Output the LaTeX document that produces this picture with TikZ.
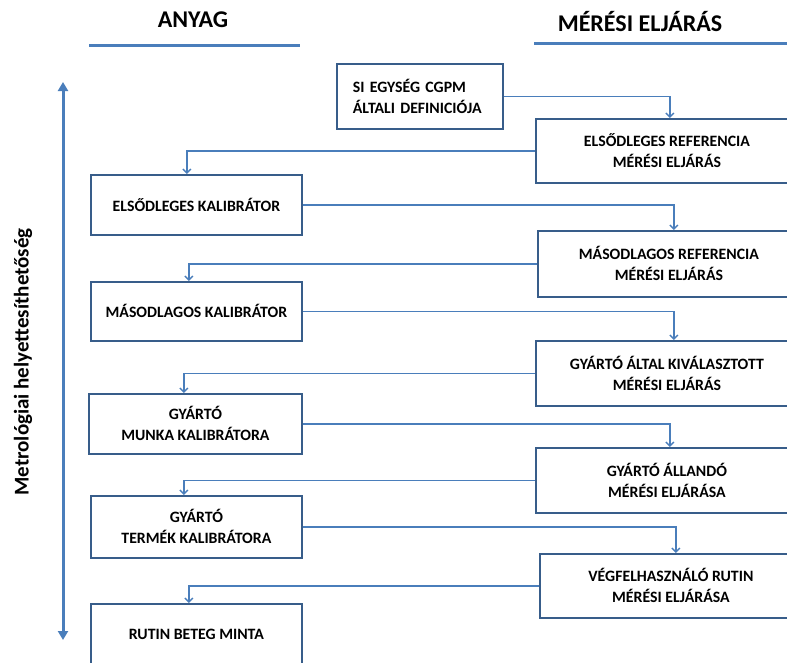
\documentclass[tikz,border=0pt]{standalone}
\usepackage{fontspec}
\setmainfont{Carlito}
\usetikzlibrary{arrows.meta}
\definecolor{keret}{HTML}{385D8A}
\definecolor{vonal}{HTML}{4A7EBB}

\begin{document}
\begin{tikzpicture}[x=1pt,y=-1pt,
  anyag/.style={draw=keret,line width=1.8pt,anchor=north west,minimum width=211pt,minimum height=60pt,align=center,inner sep=2pt,font=\bfseries\fontsize{15.8}{21}\selectfont},
  eljaras/.style={anyag,minimum width=262pt,minimum height=64pt},
  nyil/.style={draw=vonal,line width=1.4pt,-{Straight Barb[length=4pt,width=8pt]}},
  cim/.style={font=\bfseries\fontsize{24}{27}\selectfont}]

\clip (0,0) rectangle (787,662);

%Headers
\node[cim] (anyagcim) at (193,20) {ANYAG}; \node[cim] (eljarascim) at (640,22) {MÉRÉSI ELJÁRÁS};
\coordinate (a1) at (89,45); \coordinate (a2) at (300,45); \coordinate (e1) at (534,43); \coordinate (e2) at (787,43);
\draw[vonal,line width=3pt] (a1)--(a2); \draw[vonal,line width=3pt] (e1)--(e2);

%Side arrow
\coordinate (fent) at (63,82); \coordinate (lent) at (63,640);
\draw[vonal,line width=3pt,{Triangle[length=9pt,width=10pt]}-{Triangle[length=9pt,width=10pt]}] (fent)--(lent);
\node[rotate=90,font=\bfseries\fontsize{21}{24}\selectfont] (oldal) at (23,362) {Metrológiai helyettesíthetőség};

%Boxes
\node[anyag,minimum width=166pt,minimum height=65pt,align=left,text width=134pt] (si) at (336,63) {SI EGYSÉG CGPM\\ÁLTALI DEFINICIÓJA};
\node[eljaras] (ref1) at (535,118) {ELSŐDLEGES REFERENCIA\\MÉRÉSI ELJÁRÁS};
\node[anyag] (kal1) at (90,174) {ELSŐDLEGES KALIBRÁTOR};
\node[eljaras,minimum height=66pt] (ref2) at (537,230) {MÁSODLAGOS REFERENCIA\\MÉRÉSI ELJÁRÁS};
\node[anyag,minimum height=59pt] (kal2) at (90,281) {MÁSODLAGOS KALIBRÁTOR};
\node[eljaras,minimum height=65pt] (gyelj) at (535,340) {GYÁRTÓ ÁLTAL KIVÁLASZTOTT\\MÉRÉSI ELJÁRÁS};
\node[anyag,minimum width=213pt] (munka) at (88,393) {GYÁRTÓ\\MUNKA KALIBRÁTORA};
\node[eljaras,minimum height=65pt] (allando) at (535,447) {GYÁRTÓ ÁLLANDÓ\\MÉRÉSI ELJÁRÁSA};
\node[anyag,minimum height=62pt] (termek) at (90,495) {GYÁRTÓ\\TERMÉK KALIBRÁTORA};
\node[eljaras] (vegf) at (539,553) {VÉGFELHASZNÁLÓ RUTIN\\MÉRÉSI ELJÁRÁSA};
\node[anyag] (minta) at (90,603) {RUTIN BETEG MINTA};

%Connectors
\draw[nyil] (si.east) -| ([xshift=3pt]ref1.north);
\draw[nyil] (ref1.west) -| ([xshift=-9.5pt]kal1.north);
\draw[nyil] (kal1.east) -| ([xshift=5pt]ref2.north);
\draw[nyil] (ref2.west) -| ([xshift=-7.5pt]kal2.north);
\draw[nyil] (kal2.east) -| ([xshift=7pt]gyelj.north);
\draw[nyil] (gyelj.west) -| ([xshift=-11.5pt]munka.north);
\draw[nyil] (munka.east) -| ([xshift=3pt]allando.north);
\draw[nyil] (allando.west) -| ([xshift=-12.5pt]termek.north);
\draw[nyil] (termek.east) -| ([xshift=5pt]vegf.north);
\draw[nyil] (vegf.west) -| ([xshift=-7.5pt]minta.north);

\end{tikzpicture}
\end{document}
